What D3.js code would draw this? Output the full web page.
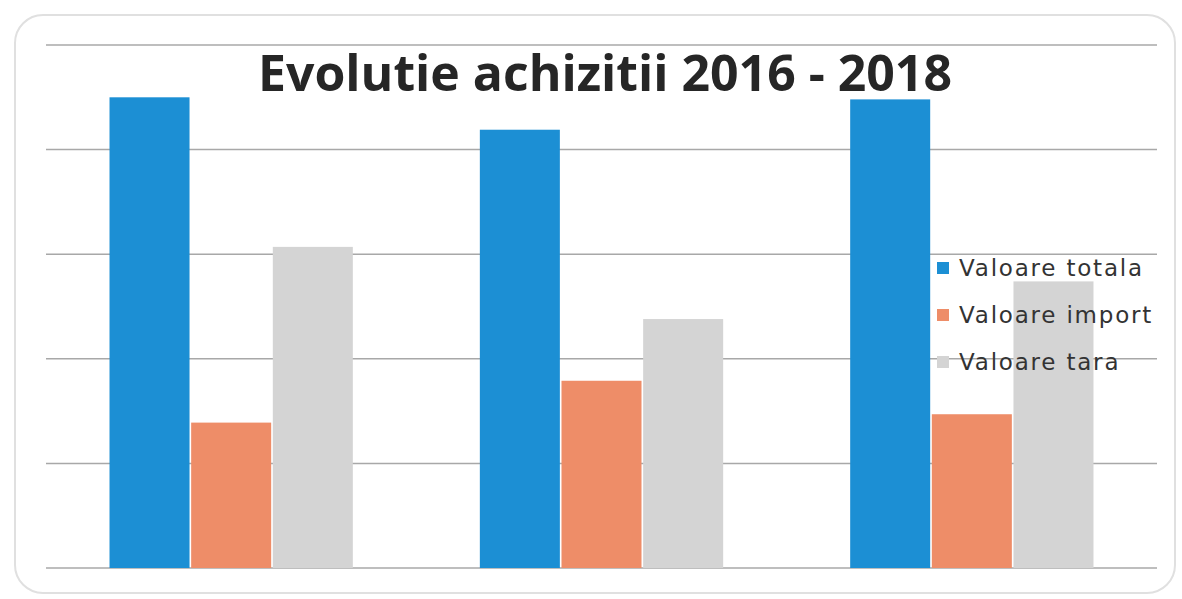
<!DOCTYPE html>
<html>
<head>
	<title>Evolutie achizitii 2016 - 2018</title>
	<script src="https://d3js.org/d3.v7.min.js"></script>
	<style type="text/css">
		body {
			margin: 0;
			background: #fff;
		}
		svg {
			display: block;
		}
		.grid line {
			stroke: #a8a8a8;
			stroke-width: 1.5;
		}
		.title {
			font-family: "Open Sans";
			font-weight: bold;
			fill: #262626;
		}
		.legend text {
			font-family: "DejaVu Sans";
			font-size: 23px;
			letter-spacing: 1.8px;
			fill: #333;
		}
	</style>
</head>
<body>

<div id="chart"></div>

<script>
	// data (no axis labels, values in gridline units)
	var years = ["2016", "2017", "2018"];
	var series = ["Valoare totala", "Valoare import", "Valoare tara"];
	var valoareTotala = [4.50, 4.19, 4.48];
	var valoareImport = [1.39, 1.79, 1.47];
	var valoareTara = [3.07, 2.38, 2.74];
	var gridTicks = [0, 1, 2, 3, 4, 5];

	var values = [valoareTotala, valoareImport, valoareTara];
	var colors = ["#1c8fd4", "#ee8d68", "#d4d4d4"];

	var width = 1182,
		height = 599;

	var svg = d3.select("#chart").append("svg")
		.attr("width", width)
		.attr("height", height);

	// faint outer frame of the chart area
	svg.append("rect")
		.attr("x", 15)
		.attr("y", 15)
		.attr("width", 1160)
		.attr("height", 578)
		.attr("rx", 28)
		.style("fill", "none")
		.style("stroke", "#e0e0e0")
		.style("stroke-width", 2);

	var x0 = d3.scaleBand()
		.domain(years)
		.range([46, 1157])
		.paddingInner(0.343)
		.paddingOuter(0.1715);

	var x1 = d3.scaleBand()
		.domain(series)
		.range([0, x0.bandwidth()])
		.paddingInner(0.02);

	var y = d3.scaleLinear()
		.domain([0, 5])
		.range([568, 45]);

	// gridlines
	svg.append("g")
		.attr("class", "grid")
		.selectAll("line")
		.data(gridTicks)
		.enter()
		.append("line")
		.attr("x1", 46)
		.attr("x2", 1157)
		.attr("y1", function(d) { return y(d); })
		.attr("y2", function(d) { return y(d); });

	// bars
	var groups = svg.append("g")
		.selectAll("g")
		.data(years)
		.enter()
		.append("g")
		.attr("transform", function(d) { return "translate(" + x0(d) + ",0)"; });

	groups.selectAll("rect")
		.data(function(d, i) {
			return series.map(function(s, j) {
				return {series: s, value: values[j][i], color: colors[j]};
			});
		})
		.enter()
		.append("rect")
		.attr("x", function(d) { return x1(d.series); })
		.attr("width", x1.bandwidth())
		.attr("y", function(d) { return y(d.value); })
		.attr("height", function(d) { return y(0) - y(d.value); })
		.style("fill", function(d) { return d.color; });

	// title
	svg.append("text")
		.attr("class", "title")
		.attr("x", 258)
		.attr("y", 91)
		.attr("font-size", 50)
		.attr("textLength", 694)
		.attr("lengthAdjust", "spacingAndGlyphs")
		.text("Evolutie achizitii 2016 - 2018");

	// legend
	var legend = svg.append("g")
		.attr("class", "legend")
		.selectAll("g")
		.data(series)
		.enter()
		.append("g")
		.attr("transform", function(d, i) { return "translate(937," + (268 + i * 47) + ")"; });

	legend.append("rect")
		.attr("x", 0)
		.attr("y", -6)
		.attr("width", 12)
		.attr("height", 12)
		.style("fill", function(d, i) { return colors[i]; });

	legend.append("text")
		.attr("x", 22)
		.attr("y", 8)
		.text(function(d) { return d; });
</script>

</body>
</html>
